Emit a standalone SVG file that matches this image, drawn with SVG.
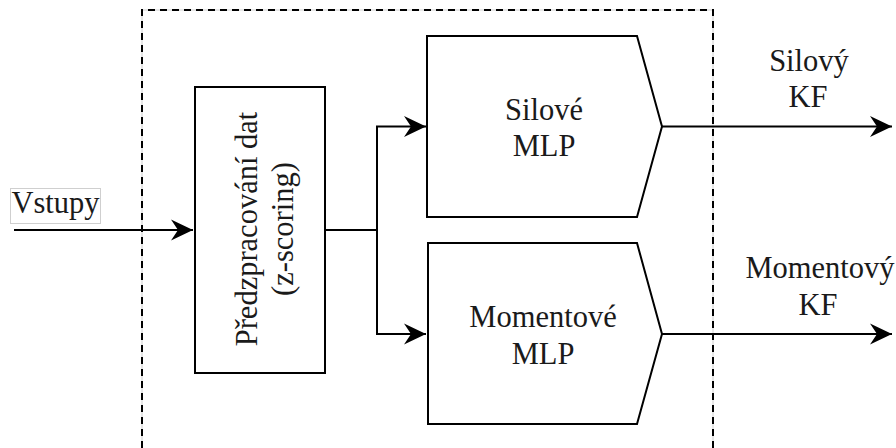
<svg xmlns="http://www.w3.org/2000/svg" width="896" height="448" viewBox="0 0 896 448">
<style>
.box{fill:#fff;stroke:#000;stroke-width:2}
.t{font-family:'Liberation Serif','Times New Roman',serif;font-size:30.5px;fill:#1a1a1a;text-anchor:middle}
.c{fill:none;stroke:#000;stroke-width:2}
</style>
<defs>
<marker id="arr" markerUnits="userSpaceOnUse" markerWidth="24" markerHeight="24" viewBox="-23 -12 24 24" refX="0" refY="0" orient="auto">
<path d="M0,0 L-22,-10.5 L-15,0 L-22,10.5 Z" fill="#000"/>
</marker>
</defs>
<rect width="896" height="448" fill="#fff"/>
<g id="frame">
<path d="M142,448 V10 H713 V448" fill="none" stroke="#d0d0d0" stroke-width="1"/>
<path d="M142,448 V10 H713 V448" fill="none" stroke="#000" stroke-width="2" stroke-dasharray="7 5"/>
</g>
<g id="connectors">
<path class="c" d="M14,230 H193" marker-end="url(#arr)"/>
<path class="c" d="M325,230 H377 V126.5 H426" marker-end="url(#arr)"/>
<path class="c" d="M377,230 V334 H426" marker-end="url(#arr)"/>
<path class="c" d="M662,126.5 H892" marker-end="url(#arr)"/>
<path class="c" d="M662,334 H892" marker-end="url(#arr)"/>
</g>
<g id="vstupy">
<rect x="10.5" y="188.5" width="90" height="35" fill="#fff" stroke="#cfcfcf" stroke-width="1"/>
<text class="t" x="55.5" y="213">Vstupy</text>
</g>
<g id="predzpracovani">
<rect class="box" x="195" y="87" width="130" height="286"/>
<g transform="translate(260,229) rotate(-90)">
<text class="t" x="0" y="-3">Předzpracování dat</text>
<text class="t" x="0" y="33">(z-scoring)</text>
</g>
</g>
<g id="silove">
<path class="box" d="M427,36 H637 L662,126.5 L637,217 H427 Z"/>
<text class="t" x="544" y="120">Silové</text>
<text class="t" x="544" y="156">MLP</text>
</g>
<g id="momentove">
<path class="box" d="M428,243 H637 L662,334 L637,424 H428 Z"/>
<text class="t" x="543" y="327">Momentové</text>
<text class="t" x="543" y="364">MLP</text>
</g>
<g id="silovy-kf">
<text class="t" x="809" y="71">Silový</text>
<text class="t" x="808" y="107">KF</text>
</g>
<g id="momentovy-kf">
<text class="t" x="820" y="278">Momentový</text>
<text class="t" x="818" y="315">KF</text>
</g>
</svg>
